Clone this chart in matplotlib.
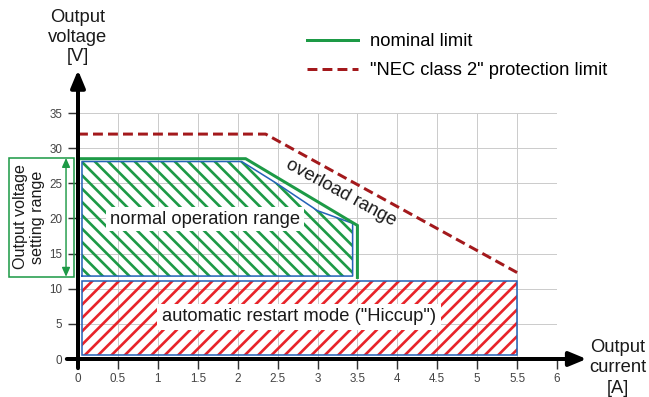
import numpy as np
import matplotlib
matplotlib.use('Agg')
import matplotlib.pyplot as plt
from matplotlib.patches import Polygon, Rectangle

# axis ticks
current_ticks = [0, 0.5, 1, 1.5, 2, 2.5, 3, 3.5, 4, 4.5, 5, 5.5, 6]
current_labels = ['0', '0.5', '1', '1.5', '2', '2.5', '3', '3.5', '4', '4.5', '5', '5.5', '6']
voltage_ticks = [0, 5, 10, 15, 20, 25, 30, 35]

# nominal limit (green line)
nominal_i = [0, 2.1, 3.5, 3.5]
nominal_v = [28.5, 28.5, 19.0, 11.6]

# "NEC class 2" protection limit (dashed)
nec_i = [0, 2.35, 5.5]
nec_v = [32.0, 32.0, 12.3]

# normal operation range (blue outline, green hatch)
normal_i = [0.05, 0.05, 2.05, 2.5, 3.0, 3.44, 3.44]
normal_v = [11.8, 28.1, 28.1, 24.9, 21.1, 19.3, 11.8]

# hiccup mode box (red hatch)
hiccup_i = [0.05, 5.5]
hiccup_v = [0.5, 11.1]

# output voltage setting range
setting_v = [11.7, 28.6]

green = '#1d9a46'
darkred = '#a3191c'
blue = '#2563b8'
red = '#e8242a'

plt.rcParams['font.family'] = ['Liberation Sans', 'DejaVu Sans']
plt.rcParams['hatch.linewidth'] = 2.4

DPI = 80
fig = plt.figure(figsize=(649 / DPI, 397 / DPI), dpi=DPI)
ax = fig.add_axes([78 / 649, 38 / 397, 479 / 649, 246 / 397])
ax.set_xlim(0, 6)
ax.set_ylim(0, 35)
for s in ax.spines.values():
    s.set_visible(False)
ax.set_xticks(current_ticks, current_labels)
ax.set_yticks(voltage_ticks)
ax.tick_params(direction='out', length=9, width=1.3, color='#333333',
               labelcolor='#444444', labelsize=10.5)
ax.tick_params(axis='y', pad=5)
ax.tick_params(axis='x', pad=4)
ax.grid(True, color='#cccccc', lw=0.9)
ax.set_axisbelow(True)

# hatched areas
ax.add_patch(Polygon(np.column_stack([normal_i, normal_v]), closed=True,
                     facecolor='none', edgecolor=green, lw=0, hatch='\\\\'))
ax.plot(normal_i + [normal_i[0]], normal_v + [normal_v[0]], color=blue, lw=1.4)

w = hiccup_i[1] - hiccup_i[0]
h = hiccup_v[1] - hiccup_v[0]
ax.add_patch(Rectangle((hiccup_i[0], hiccup_v[0]), w, h, facecolor='none',
                       edgecolor=red, lw=0, hatch='//'))
ax.add_patch(Rectangle((hiccup_i[0], hiccup_v[0]), w, h, fill=False,
                       edgecolor=blue, lw=1.4))

# limit lines
nominal_line, = ax.plot(nominal_i, nominal_v, color=green, lw=2.7,
                        solid_joinstyle='miter', label='nominal limit')
nec_line, = ax.plot(nec_i, nec_v, color=darkred, lw=2.7, dashes=(3.3, 1.7),
                    label='"NEC class 2" protection limit')

# axes with arrows
arrow = dict(arrowstyle='-|>,head_length=0.65,head_width=0.27', mutation_scale=20,
             lw=3.6, color='black', shrinkA=0, shrinkB=0)
ax.annotate('', xy=(0, 41.1), xytext=(0, -1.3), arrowprops=arrow,
            annotation_clip=False, zorder=6)
ax.annotate('', xy=(6.37, 0), xytext=(-0.14, 0), arrowprops=arrow,
            annotation_clip=False, zorder=6)

# region labels
txt = dict(fontsize=16.5, ha='center', va='center', color='#1a1a1a')
ax.text(1.59, 19.9, 'normal operation range',
        bbox=dict(boxstyle='square,pad=0.2', fc='white', ec='none'), **txt)
ax.text(2.77, 6.0, 'automatic restart mode ("Hiccup")',
        bbox=dict(boxstyle='square,pad=0.25', fc='white', ec='none'), **txt)
ax.text(3.29, 23.6, 'overload range', rotation=-28.5, **txt)

# setting range bracket
ax.add_patch(Rectangle((-0.8625, setting_v[0]), 0.8125, setting_v[1] - setting_v[0],
                       fill=False, edgecolor=green, lw=1.4, clip_on=False))
ax.annotate('', xy=(-0.15, setting_v[1]), xytext=(-0.15, setting_v[0]),
            arrowprops=dict(arrowstyle='<|-|>,head_length=0.45,head_width=0.2',
                            mutation_scale=15, lw=1.3, color=green,
                            shrinkA=0, shrinkB=0),
            annotation_clip=False)
fig.text(29 / 649, 1 - 217 / 397, 'Output voltage\nsetting range', rotation=90,
         ha='center', va='center', fontsize=14.5, linespacing=1.1, color='#1a1a1a')

# axis titles
fig.text(78 / 649, 1 - 37 / 397, 'Output\nvoltage\n[V]', ha='center', va='center',
         fontsize=16.5, linespacing=1.17, color='#1a1a1a')
fig.text(618 / 649, 1 - 368 / 397, 'Output\ncurrent\n[A]', ha='center', va='center',
         fontsize=16.5, linespacing=1.3, color='#1a1a1a')

ax.legend(handles=[nominal_line, nec_line], loc='upper left',
          bbox_to_anchor=(307 / 649, 1 - 33 / 397), bbox_transform=fig.transFigure,
          frameon=False, fontsize=16.5, handlelength=2.8, handletextpad=0.65,
          labelspacing=0.67, borderpad=0, borderaxespad=0)

fig.savefig('out.png', dpi=DPI)
